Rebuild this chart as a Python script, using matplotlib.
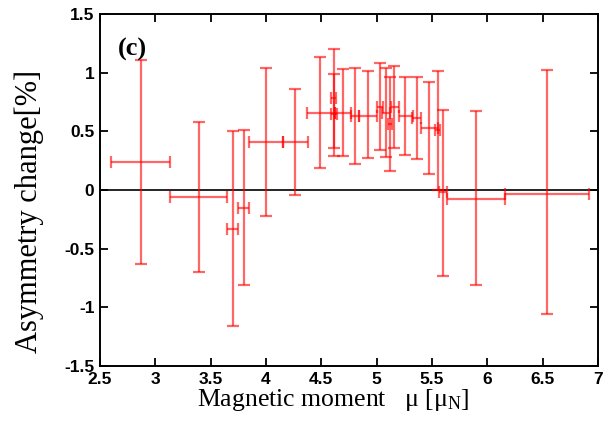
import numpy as np
import matplotlib
matplotlib.use("Agg")
import matplotlib.pyplot as plt

plt.rcParams['mathtext.fontset'] = 'custom'
plt.rcParams['mathtext.rm'] = 'Liberation Serif'
plt.rcParams['mathtext.it'] = 'Liberation Serif:italic'

# magnetic moment (center, lower, upper) and asymmetry change (center, lower, upper)
mu = [2.87, 3.39, 3.70, 3.80, 4.00, 4.26, 4.49, 4.61, 4.61, 4.70, 4.80, 4.92,
      5.03, 5.08, 5.12, 5.16, 5.26, 5.36, 5.47, 5.55, 5.60, 5.90, 6.54]
mu_lo = [2.60, 3.13, 3.65, 3.75, 3.85, 4.15, 4.37, 4.59, 4.59, 4.62, 4.77, 4.84,
         5.00, 5.05, 5.10, 5.13, 5.20, 5.32, 5.40, 5.53, 5.56, 5.64, 6.16]
mu_hi = [3.13, 3.65, 3.75, 3.85, 4.15, 4.38, 4.62, 4.63, 4.64, 4.77, 4.84, 5.00,
         5.06, 5.12, 5.14, 5.20, 5.33, 5.40, 5.55, 5.57, 5.64, 6.16, 6.92]
asym = [0.24, -0.06, -0.33, -0.15, 0.41, 0.41, 0.66, 0.78, 0.65, 0.66, 0.63, 0.63,
        0.71, 0.66, 0.56, 0.71, 0.63, 0.61, 0.53, 0.51, -0.02, -0.08, -0.03]
asym_lo = [-0.63, -0.70, -1.16, -0.81, -0.22, -0.04, 0.19, 0.36, 0.29, 0.29, 0.22, 0.27,
           0.34, 0.28, 0.16, 0.36, 0.30, 0.26, 0.14, 0.00, -0.73, -0.81, -1.06]
asym_hi = [1.11, 0.58, 0.50, 0.51, 1.04, 0.86, 1.13, 1.20, 0.99, 1.03, 1.04, 1.01,
           1.08, 1.04, 0.96, 1.06, 0.96, 0.96, 0.92, 1.01, 0.68, 0.67, 1.02]

x = np.array(mu)
y = np.array(asym)
xerr = [x - np.array(mu_lo), np.array(mu_hi) - x]
yerr = [y - np.array(asym_lo), np.array(asym_hi) - y]

fig = plt.figure(figsize=(6.11, 4.29), dpi=100)
ax = fig.add_axes([0.1637, 0.1469, 0.815, 0.8205])

ax.axhline(0, color='black', lw=1.2, zorder=1)
ax.errorbar(x, y, xerr=xerr, yerr=yerr, fmt='none', ecolor=(1, 0, 0, 0.6),
            elinewidth=1.6, capsize=4.5, capthick=1.6, zorder=2)

ax.set_xlim(2.5, 7)
ax.set_ylim(-1.5, 1.5)
ax.set_xticks(np.arange(2.5, 7.01, 0.5))
ax.set_yticks(np.arange(-1.5, 1.51, 0.5))
ax.set_xticklabels(['2.5', '3', '3.5', '4', '4.5', '5', '5.5', '6', '6.5', '7'])
ax.set_yticklabels(['-1.5', '-1', '-0.5', '0', '0.5', '1', '1.5'])
ax.tick_params(direction='in', length=6, width=1.3, top=True, right=True,
               labelsize=12.5, pad=4)
for lbl in ax.get_xticklabels() + ax.get_yticklabels():
    lbl.set_fontweight('bold')
    lbl.set_family('Liberation Sans')
for s in ax.spines.values():
    s.set_linewidth(1.4)

ax.set_xlabel(r'Magnetic moment   $\mathrm{\mu}$ [$\mathrm{\mu_N}$]',
              family='Liberation Serif', fontsize=18.5)
ax.xaxis.set_label_coords(0.468, -0.06, transform=ax.transAxes)
ax.xaxis.label.set_va('top')
ax.set_ylabel('Asymmetry change[%]', family='Liberation Serif', fontsize=22)
ax.yaxis.set_label_coords(-0.143, 0.44, transform=ax.transAxes)
ax.yaxis.label.set_va('center')
ax.text(0.036, 0.9, '(c)', transform=ax.transAxes, family='Liberation Serif',
        fontsize=19, fontweight='bold', va='center')

fig.savefig('out.png', dpi=100)
